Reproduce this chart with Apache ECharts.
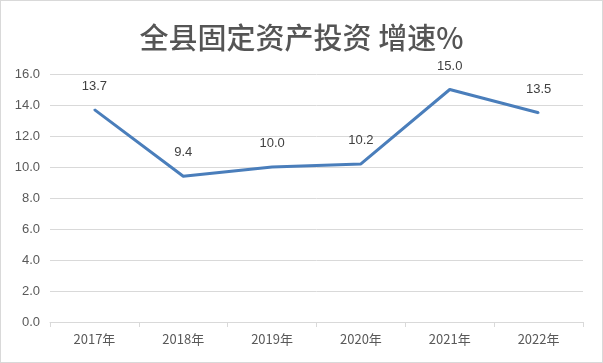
<!DOCTYPE html>
<html><head><meta charset="utf-8">
<script src="https://cdn.jsdelivr.net/npm/echarts@6/dist/echarts.min.js"></script>
<style>
html,body{margin:0;padding:0;background:#fff;}
#c{width:603px;height:363px;box-sizing:border-box;border:1px solid #d9d9d9;}
</style></head>
<body><div id="c"></div>
<script>
const categories = ['2017年','2018年','2019年','2020年','2021年','2022年'];
const growth = [13.7, 9.4, 10.0, 10.2, 15.0, 13.5];
const titleText = '全县固定资产投资 增速%';

const chart = echarts.init(document.getElementById('c'));
chart.setOption({
  animation: false,
  title: {
    text: titleText, left: 'center', top: 17,
    textStyle: {fontFamily: '"Noto Sans CJK SC"', fontSize: 29, fontWeight: 500, color: '#555555'}
  },
  grid: {left: 49, right: 19, top: 73, bottom: 40},
  xAxis: {
    type: 'category', data: categories, boundaryGap: true,
    axisLine: {lineStyle: {color: '#d9d9d9'}},
    axisTick: {show: true, lineStyle: {color: '#d9d9d9'}, length: 5},
    axisLabel: {color: '#595959', fontSize: 13, margin: 11, fontFamily: '"Noto Sans CJK SC"'}
  },
  yAxis: {
    type: 'value', min: 0, max: 16, interval: 2,
    axisLine: {show: false}, axisTick: {show: false},
    splitLine: {lineStyle: {color: '#d9d9d9'}},
    axisLabel: {color: '#595959', fontSize: 13, margin: 10, formatter: v => v.toFixed(1)}
  },
  series: [{
    type: 'line', data: growth, showSymbol: true, symbol: 'circle', symbolSize: 2,
    itemStyle: {color: '#4a7ebb'},
    lineStyle: {color: '#4a7ebb', width: 3},
    label: {show: true, position: 'top', distance: 16, color: '#404040', fontSize: 13,
      formatter: p => Number(p.value).toFixed(1)}
  }]
});
</script></body></html>
